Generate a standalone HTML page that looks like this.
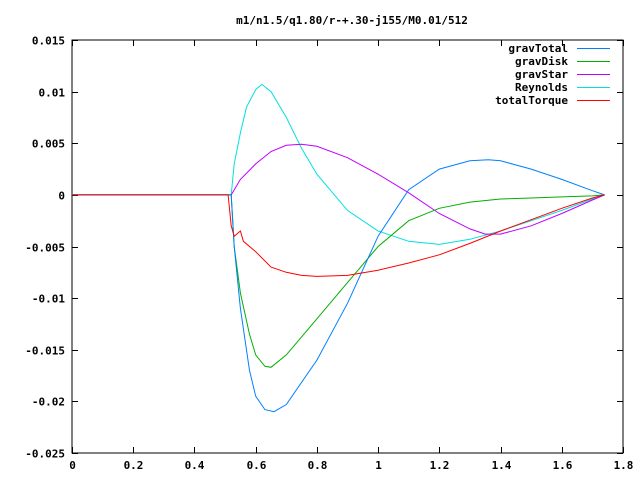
<!DOCTYPE html>
<html><head><meta charset="utf-8"><style>
body{margin:0;background:#fff}
svg text{font-family:"DejaVu Sans Mono","Liberation Mono",monospace;font-size:11px;font-weight:bold;fill:#000}
</style></head><body>
<svg id="chart" width="640" height="480" xmlns="http://www.w3.org/2000/svg">
<rect width="640" height="480" fill="#fff"/>
<text x="352" y="24" text-anchor="middle">m1/n1.5/q1.80/r-+.30-j155/M0.01/512</text>
<g id="axes"></g><g id="series"></g><g id="legend"></g>
</svg>
<script>
const xTicks=[0,0.2,0.4,0.6,0.8,1,1.2,1.4,1.6,1.8];
const xTickLabels=["0","0.2","0.4","0.6","0.8","1","1.2","1.4","1.6","1.8"];
const yTicks=[0.015,0.01,0.005,0,-0.005,-0.01,-0.015,-0.02,-0.025];
const yTickLabels=["0.015","0.01","0.005","0","-0.005","-0.01","-0.015","-0.02","-0.025"];
const seriesNames=["gravTotal","gravDisk","gravStar","Reynolds","totalTorque"];
const seriesColors=["#0080ff","#00b000","#c000ff","#00e0e0","#ff0000"];
const xTotal=[0,0.52,0.53,0.55,0.58,0.6,0.63,0.66,0.7,0.8,0.9,1.0,1.1,1.2,1.3,1.36,1.4,1.5,1.6,1.7,1.74];
const gravTotal=[0,0,-0.005,-0.011,-0.017,-0.0195,-0.0208,-0.021,-0.0203,-0.016,-0.0105,-0.004,0.0005,0.0025,0.0033,0.0034,0.0033,0.0025,0.0015,0.0004,0];
const xDisk=[0,0.52,0.53,0.55,0.58,0.6,0.63,0.65,0.7,0.8,0.9,1.0,1.1,1.2,1.3,1.4,1.5,1.6,1.7,1.74];
const gravDisk=[0,0,-0.005,-0.0095,-0.0135,-0.0155,-0.0166,-0.0167,-0.0155,-0.012,-0.0085,-0.005,-0.0025,-0.0013,-0.0007,-0.0004,-0.0003,-0.0002,-0.0001,0];
const xStar=[0,0.52,0.55,0.6,0.65,0.7,0.75,0.8,0.9,1.0,1.1,1.2,1.3,1.35,1.4,1.5,1.6,1.7,1.74];
const gravStar=[0,0,0.0015,0.003,0.0042,0.0048,0.0049,0.0047,0.0036,0.002,0.0002,-0.0018,-0.0033,-0.0038,-0.0038,-0.003,-0.0018,-0.0005,0];
const xRey=[0,0.52,0.53,0.55,0.57,0.6,0.62,0.65,0.7,0.75,0.8,0.9,1.0,1.1,1.2,1.3,1.4,1.5,1.6,1.7,1.74];
const reynolds=[0,0,0.003,0.006,0.0085,0.0102,0.0107,0.01,0.0075,0.0045,0.002,-0.0015,-0.0035,-0.0045,-0.0048,-0.0043,-0.0035,-0.0025,-0.0015,-0.0004,0];
const xTorque=[0,0.51,0.52,0.53,0.55,0.56,0.6,0.65,0.7,0.75,0.8,0.9,1.0,1.1,1.2,1.3,1.4,1.5,1.6,1.7,1.74];
const totalTorque=[0,0,-0.003,-0.004,-0.0035,-0.0045,-0.0055,-0.007,-0.0075,-0.0078,-0.0079,-0.0078,-0.0073,-0.0066,-0.0058,-0.0047,-0.0035,-0.0024,-0.0013,-0.0003,0];

const L=72,R=623,T=40,B=453;
const sx=v=>L+(v-0)/(1.8-0)*(R-L);
const sy=v=>T+(0.015-v)/(0.015+0.025)*(B-T);
const NS="http://www.w3.org/2000/svg";
function mk(t,a,p){const e=document.createElementNS(NS,t);for(const k in a)e.setAttribute(k,a[k]);p.appendChild(e);return e;}
const axes=document.getElementById('axes');
const frame=mk('rect',{x:L,y:T,width:R-L,height:B-T,fill:'none',stroke:'#000','stroke-width':1},axes);


xTicks.forEach((v,i)=>{const x=Math.round(sx(v))+0.5;
 mk('line',{x1:x,y1:B,x2:x,y2:B-6,stroke:'#000'},axes);mk('line',{x1:x,y1:T,x2:x,y2:T+6,stroke:'#000'},axes);
 const t=mk('text',{x:x,y:B+16,'text-anchor':'middle'},axes);t.textContent=xTickLabels[i];
 
 });
yTicks.forEach((v,i)=>{const y=Math.round(sy(v))+0.5;
 mk('line',{x1:L,y1:y,x2:L+6,y2:y,stroke:'#000'},axes);mk('line',{x1:R,y1:y,x2:R-6,y2:y,stroke:'#000'},axes);
 const t=mk('text',{x:65,y:y+4,'text-anchor':'end'},axes);t.textContent=yTickLabels[i];
 
 });
const sg=document.getElementById('series');
const xs=[xTotal,xDisk,xStar,xRey,xTorque],ys=[gravTotal,gravDisk,gravStar,reynolds,totalTorque];
[3,2,1,0,4].forEach(i=>{const pts=xs[i].map((x,j)=>sx(x).toFixed(1)+','+sy(ys[i][j]).toFixed(1)).join(' ');
 const p=mk('polyline',{points:pts,fill:'none',stroke:seriesColors[i],'stroke-width':1},sg);
 
 });
const lg=document.getElementById('legend');
seriesNames.forEach((n,i)=>{const y=48+i*13;
 const g=mk('g',{},lg);
 
 
 const t=mk('text',{x:568,y:y+4,'text-anchor':'end'},g);t.textContent=n;
 mk('line',{x1:577,y1:y+0.5,x2:610,y2:y+0.5,stroke:seriesColors[i]},g);});
</script>
</body></html>
